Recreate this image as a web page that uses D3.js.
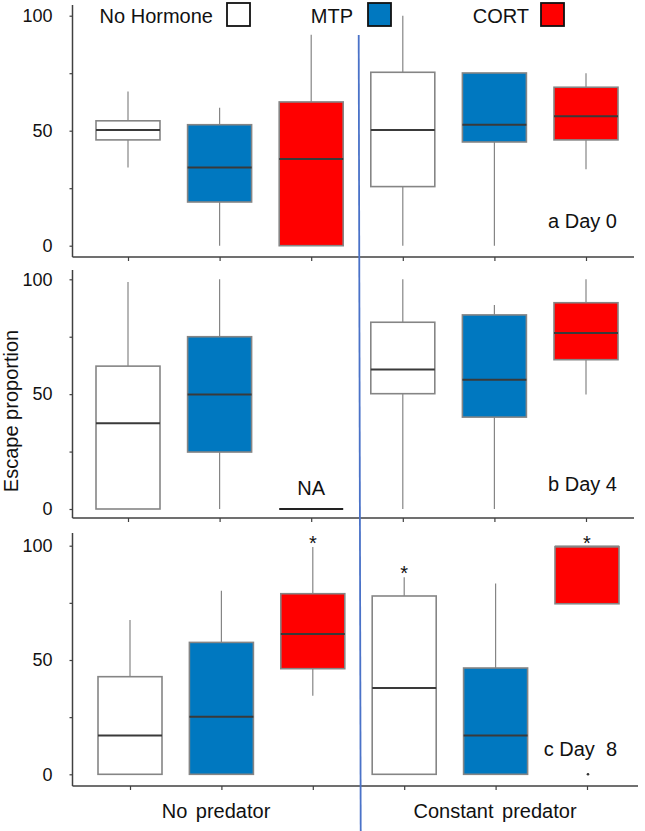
<!DOCTYPE html>
<html>
<head>
<meta charset="utf-8">
<script src="https://cdn.jsdelivr.net/npm/d3@7/dist/d3.min.js"></script>
<style>
  html, body { margin: 0; padding: 0; background: #fff; }
  svg { display: block; font-family: "Liberation Sans", Arial, sans-serif; }
</style>
</head>
<body>
<svg id="chart" width="645" height="831"></svg>
<script>
// ---------- data ----------
const predators = ["No predator", "Constant predator"];
const hormones = ["No Hormone", "MTP", "CORT"];
const hormoneColors = ["#ffffff", "#0078c0", "#ff0000"];
const panelLabels = ["a Day 0", "b Day 4", "c Day  8"];
const yTickValues = [0, 25, 50, 75, 100];
const yTickLabels = ["0", "", "50", "", "100"];

// each row: [min, q1, median, q3, max]; order: No predator x (NoH, MTP, CORT), Constant predator x (NoH, MTP, CORT)
const day0 = [
  [34, 46, 50.3, 54.3, 67],
  [0, 19, 34, 52.6, 60],
  [0, 0, 37.7, 62.5, 91.7],
  [0, 25.7, 50.3, 75.4, 100],
  [0, 45.1, 52.6, 75.1, 75.1],
  [33.2, 46, 56.3, 68.9, 75]
];
const day4 = [
  [0, 0, 37.3, 62.2, 98.8],
  [0, 24.8, 49.8, 75, 100],
  null,
  [0, 50.2, 60.7, 81.3, 100],
  [0, 40, 56.3, 84.5, 88.8],
  [49.9, 65, 76.6, 89.8, 100]
];
const day8 = [
  [0, 0, 17, 42.7, 67.5],
  [0, 0, 25.2, 57.7, 80.3],
  [34.4, 46.2, 61.4, 79, 99.4],
  [0, 0, 37.8, 78, 86.2],
  [0, 0, 17, 46.5, 83.5],
  [74.6, 74.6, 99.6, 99.6, 99.6]
];
const day8Outliers = [{ group: 5, value: 0 }];
const day8Significant = [2, 3, 5];
const naLabel = "NA";

// ---------- layout ----------
const groups = [];
predators.forEach((p, pi) => hormones.forEach((h, hi) => groups.push({ key: p + "|" + h, pi, hi })));

const panels = [
  { stats: day0, label: panelLabels[0], y0: 245.7, y100: 15.7, axisY: 257, axisTop: 5, xl: 72.5, xr: 634, c0: 128, c1: 586, outliers: [], sig: [] },
  { stats: day4, label: panelLabels[1], y0: 509, y100: 279.3, axisY: 518, axisTop: 270, xl: 72.5, xr: 634, c0: 128, c1: 586, outliers: [], sig: [] },
  { stats: day8, label: panelLabels[2], y0: 774.3, y100: 545.7, axisY: 786, axisTop: 533, xl: 72.5, xr: 638, c0: 130, c1: 587, outliers: day8Outliers, sig: day8Significant }
];

const svg = d3.select("#chart");
const boxW = 64;
const axisColor = "#404040";
const boxStroke = "#858585";

panels.forEach(P => {
  const x = d3.scalePoint().domain(groups.map(g => g.key)).range([P.c0, P.c1]);
  const y = d3.scaleLinear().domain([0, 100]).range([P.y0, P.y100]);
  const g = svg.append("g");

  // y axis
  const yAxis = d3.axisLeft(y).tickValues(yTickValues).tickSize(3).tickPadding(17)
    .tickFormat((d, i) => yTickLabels[i]);
  const ya = g.append("g").attr("transform", `translate(${P.xl},0)`).call(yAxis);
  ya.select(".domain").remove();
  ya.selectAll(".tick line").attr("stroke", axisColor).attr("stroke-width", 1.2);
  ya.selectAll(".tick text").attr("font-size", 18).attr("fill", "#111")
    .attr("font-family", "'Liberation Sans', Arial, sans-serif");
  g.append("line").attr("x1", P.xl).attr("x2", P.xl).attr("y1", P.axisTop).attr("y2", P.axisY)
    .attr("stroke", axisColor).attr("stroke-width", 1.5);

  // x axis
  const xAxis = d3.axisBottom(x).tickSize(4).tickFormat("");
  const xa = g.append("g").attr("transform", `translate(0,${P.axisY})`).call(xAxis);
  xa.select(".domain").remove();
  xa.selectAll(".tick line").attr("stroke", axisColor).attr("stroke-width", 1.2);
  g.append("line").attr("x1", P.xl).attr("x2", P.xr).attr("y1", P.axisY).attr("y2", P.axisY)
    .attr("stroke", axisColor).attr("stroke-width", 1.5);

  // boxes
  groups.forEach((gr, i) => {
    const s = P.stats[i];
    const cx = x(gr.key);
    if (!s) {
      g.append("line").attr("x1", cx - boxW / 2).attr("x2", cx + boxW / 2)
        .attr("y1", y(0)).attr("y2", y(0)).attr("stroke", "#222").attr("stroke-width", 2);
      g.append("text").attr("x", cx).attr("y", y(0) - 14).attr("text-anchor", "middle")
        .attr("font-size", 20).attr("fill", "#111").text(naLabel);
      return;
    }
    const [mn, q1, md, q3, mx] = s;
    if (mx > q3) g.append("line").attr("x1", cx).attr("x2", cx).attr("y1", y(q3)).attr("y2", y(mx))
      .attr("stroke", boxStroke).attr("stroke-width", 1.2);
    if (mn < q1) g.append("line").attr("x1", cx).attr("x2", cx).attr("y1", y(q1)).attr("y2", y(mn))
      .attr("stroke", boxStroke).attr("stroke-width", 1.2);
    g.append("rect").attr("x", cx - boxW / 2).attr("width", boxW)
      .attr("y", y(q3)).attr("height", Math.max(0.5, y(q1) - y(q3)))
      .attr("fill", hormoneColors[gr.hi]).attr("stroke", boxStroke).attr("stroke-width", 1.6);
    g.append("line").attr("x1", cx - boxW / 2).attr("x2", cx + boxW / 2)
      .attr("y1", y(md)).attr("y2", y(md)).attr("stroke", md >= q3 ? boxStroke : "#3a3a3a").attr("stroke-width", 2);
  });

  // outliers
  P.outliers.forEach(o => {
    g.append("circle").attr("cx", x(groups[o.group].key) + 1).attr("cy", y(o.value))
      .attr("r", 1.3).attr("fill", "#333");
  });
  // significance asterisks
  P.sig.forEach(i => {
    const s = P.stats[i];
    g.append("text").attr("x", x(groups[i].key)).attr("y", y(s[4]) + 3)
      .attr("text-anchor", "middle").attr("font-size", 20).attr("fill", "#111").text("*");
  });

  // panel label
  g.append("text").attr("x", 617).attr("y", P.y0 - 18).attr("text-anchor", "end")
    .attr("font-size", 20).attr("fill", "#111").attr("xml:space", "preserve").style("white-space", "pre")
    .text(P.label);
});

// legend
const legendX = [{ tx: 213, bx: 227 }, { tx: 353, bx: 368 }, { tx: 529, bx: 541 }];
hormones.forEach((h, i) => {
  svg.append("text").attr("x", legendX[i].tx).attr("y", 23).attr("text-anchor", "end")
    .attr("font-size", 20).attr("fill", "#111").text(h);
  svg.append("rect").attr("x", legendX[i].bx).attr("y", 3).attr("width", 23).attr("height", 23)
    .attr("fill", hormoneColors[i]).attr("stroke", "#111").attr("stroke-width", 1.8);
});

// divider
svg.append("line").attr("x1", 358.7).attr("y1", 35).attr("x2", 360.7).attr("y2", 831)
  .attr("stroke", "#4a72c8").attr("stroke-width", 1.8);

// predator labels
const xBottom = d3.scalePoint().domain(predators).range([216, 495]);
predators.forEach(p => {
  svg.append("text").attr("x", xBottom(p)).attr("y", 818).attr("text-anchor", "middle")
    .attr("font-size", 20).attr("fill", "#111").attr("word-spacing", "3px").text(p);
});

// y title
svg.append("text").attr("transform", "translate(18,411) rotate(-90)").attr("text-anchor", "middle")
  .attr("font-size", 20).attr("fill", "#111").text("Escape proportion");
</script>
</body>
</html>
